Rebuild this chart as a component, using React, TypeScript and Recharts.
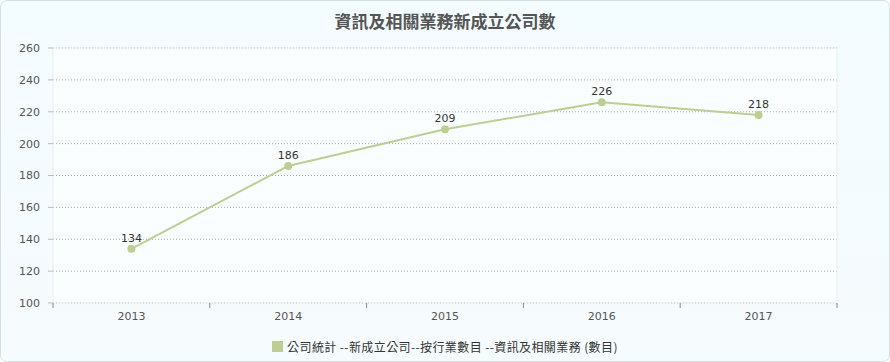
import React from "react";
import {
    LineChart,
    Line,
    XAxis,
    YAxis,
    CartesianGrid,
    LabelList,
    Legend,
    ReferenceLine,
} from "recharts";

const title = "資訊及相關業務新成立公司數";
const seriesName = "公司統計 --新成立公司--按行業數目 --資訊及相關業務 (數目)";
const years = ["2013", "2014", "2015", "2016", "2017"];
const companies = [134, 186, 209, 226, 218];
const yTicks = [100, 120, 140, 160, 180, 200, 220, 240, 260];

const lineColor = "#bccf8f";
const borderColor = "#e8edef";
const data = years.map((year, i) => ({ year, idx: i + 0.5, value: companies[i] }));

// minor ticks every 5 between the labelled ones
const yMin = yTicks[0];
const yMax = yTicks[yTicks.length - 1];
const minorTicks: number[] = [];
for (let v = yMin; v <= yMax; v += 5) {
    if (!yTicks.includes(v)) minorTicks.push(v);
}
// tick marks sit on the category boundaries
const edgeTicks = years.map((_, i) => i).concat(years.length);

const tickFont = { fontSize: 11, fill: "#555", fontFamily: "DejaVu Sans" };

const NoTick = () => null;

const LegendContent = () => (
    <div
        style={{
            display: "flex",
            justifyContent: "center",
            alignItems: "center",
            height: 26,
            fontFamily: "'Noto Sans CJK TC', sans-serif",
            fontSize: 12,
            letterSpacing: 0.4,
            color: "#333",
        }}
    >
        <span
            style={{
                width: 11,
                height: 11,
                background: lineColor,
                marginRight: 4,
                display: "inline-block",
            }}
        />
        <span>{seriesName}</span>
    </div>
);

const App: React.FC = () => {
    return (
        <div
            style={{
                position: "absolute",
                left: 0,
                top: 0,
                width: 890,
                height: 362,
                boxSizing: "border-box",
                border: "1px solid #d3dfe3",
                borderRadius: 7,
                background: "linear-gradient(#f3fcff, #f6fbfd)",
                overflow: "hidden",
            }}
        >
            <div
                style={{
                    position: "absolute",
                    top: 7,
                    left: -1,
                    width: 890,
                    textAlign: "center",
                    fontFamily: "'Noto Sans CJK TC', sans-serif",
                    fontWeight: 700,
                    fontSize: 17,
                    color: "#555",
                }}
            >
                {title}
            </div>
            <div style={{ position: "absolute", left: -1, top: -1 }}>
                <LineChart
                    width={890}
                    height={362}
                    data={data}
                    margin={{ top: 48, right: 53, left: 0, bottom: 3 }}
                >
                    <CartesianGrid
                        xAxisId="main"
                        yAxisId="main"
                        vertical={false}
                        stroke="#aaa"
                        strokeDasharray="1 2"
                        fill="#fafeff"
                    />
                    <XAxis
                        xAxisId="edge"
                        type="number"
                        dataKey="idx"
                        domain={[0, years.length]}
                        allowDataOverflow
                        ticks={edgeTicks}
                        tick={NoTick}
                        tickSize={5}
                        tickLine={{ stroke: "#888" }}
                        axisLine={false}
                        height={1}
                    />
                    <XAxis
                        xAxisId="main"
                        dataKey="year"
                        scale="band"
                        tickLine={false}
                        tickSize={4}
                        tickMargin={4}
                        axisLine={false}
                        tick={tickFont}
                        height={29}
                    />
                    <YAxis
                        yAxisId="minor"
                        domain={[yMin, yMax]}
                        ticks={minorTicks}
                        tick={NoTick}
                        tickSize={2}
                        tickLine={{ stroke: "#ccc" }}
                        axisLine={false}
                        width={1}
                    />
                    <YAxis
                        yAxisId="main"
                        domain={[yMin, yMax]}
                        ticks={yTicks}
                        tickSize={5}
                        tickMargin={8}
                        tickLine={{ stroke: "#bbb" }}
                        axisLine={false}
                        tick={tickFont}
                        width={52}
                        interval={0}
                    />
                    <ReferenceLine xAxisId="main" yAxisId="main" y={yMax} stroke={borderColor} />
                    <ReferenceLine xAxisId="main" yAxisId="main" y={yMin} stroke={borderColor} />
                    <ReferenceLine xAxisId="edge" yAxisId="main" x={0} stroke={borderColor} />
                    <ReferenceLine
                        xAxisId="edge"
                        yAxisId="main"
                        x={years.length}
                        stroke={borderColor}
                    />
                    <Legend
                        verticalAlign="bottom"
                        content={<LegendContent />}
                        wrapperStyle={{ left: 0, width: 890 }}
                    />
                    <Line
                        xAxisId="main"
                        yAxisId="main"
                        dataKey="value"
                        stroke={lineColor}
                        strokeWidth={2}
                        dot={{ r: 4, fill: lineColor, stroke: "none" }}
                        activeDot={false}
                        isAnimationActive={false}
                    >
                        <LabelList
                            dataKey="value"
                            position="top"
                            offset={7}
                            style={{
                                fontSize: 11,
                                fill: "#333",
                                fontFamily: "DejaVu Sans",
                            }}
                        />
                    </Line>
                </LineChart>
            </div>
        </div>
    );
};

export default App;
